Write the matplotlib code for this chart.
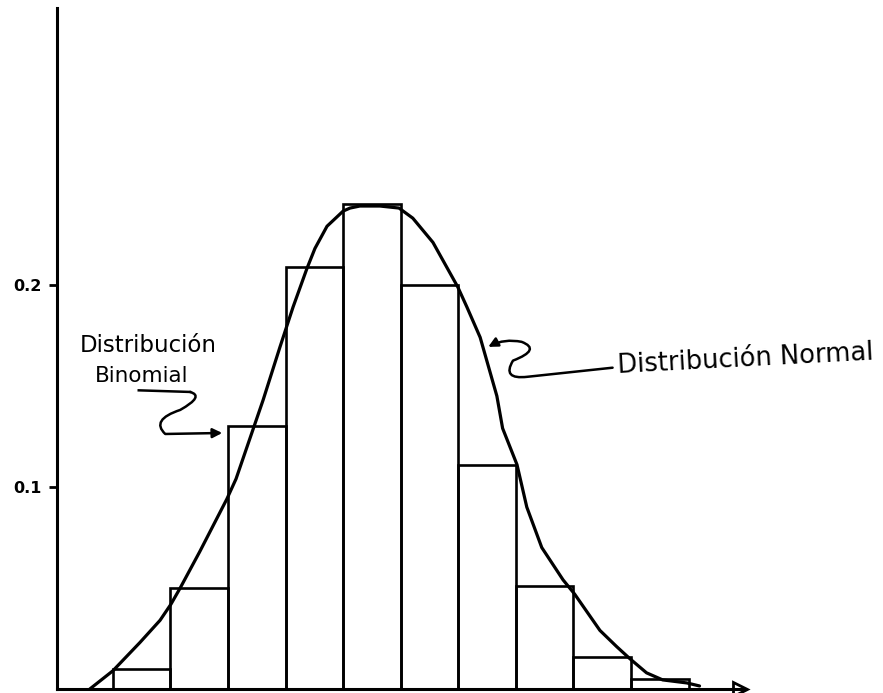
#!/usr/bin/env python3
"""
Binomial histogram with the normal curve drawn over it (hand-drawn sketch).
"""

import matplotlib.pyplot as plt
from matplotlib.patches import FancyArrowPatch
from matplotlib.path import Path

# Binomial bars (k, probability)
bar_k = [1, 2, 3, 4, 5, 6, 7, 8, 9, 10]
bar_prob = [0.010, 0.050, 0.130, 0.209, 0.240, 0.200, 0.111, 0.051, 0.016, 0.005]

# Normal curve as drawn by hand
curve_x = [0.10, 0.50, 0.97, 1.32, 1.51, 1.67, 2.01, 2.48, 2.64, 3.11,
           3.40, 3.63, 3.87, 4.01, 4.22, 4.50, 4.62, 4.79, 5.14, 5.47,
           5.71, 6.06, 6.49, 6.65, 6.88, 7.17, 7.27, 7.52, 7.69, 7.95,
           8.32, 8.52, 8.96, 9.25, 9.48, 9.77, 10.05, 10.47, 10.69]
curve_y = [0.000, 0.009, 0.023, 0.034, 0.042, 0.050, 0.068, 0.094, 0.104, 0.143,
           0.169, 0.189, 0.208, 0.218, 0.229, 0.2365, 0.238, 0.239, 0.239, 0.238,
           0.233, 0.221, 0.199, 0.189, 0.174, 0.145, 0.129, 0.111, 0.090, 0.070,
           0.054, 0.047, 0.029, 0.021, 0.015, 0.008, 0.0045, 0.003, 0.0015]

y_ticks = [0.1, 0.2]
y_tick_labels = ['0.1', '0.2']

fig = plt.figure(figsize=(8.83, 6.93), dpi=100)
fig.patch.set_facecolor('white')
ax = fig.add_axes([57 / 883, 4 / 693, 688 / 883, 681 / 693])

# ===== Bars and curve =====
ax.bar(bar_k, bar_prob, width=1.0, facecolor='none', edgecolor='black',
       linewidth=1.9, zorder=2)
ax.plot(curve_x, curve_y, color='black', linewidth=2.3,
        solid_joinstyle='round', solid_capstyle='round', zorder=3)

# ===== Axes =====
ax.set_xlim(-0.47, 11.48)
ax.set_ylim(0, 0.337)
ax.spines['top'].set_visible(False)
ax.spines['right'].set_visible(False)
ax.spines['left'].set_linewidth(2.2)
ax.spines['bottom'].set_linewidth(2.2)
ax.set_xticks([])
ax.set_yticks(y_ticks)
ax.set_yticklabels(y_tick_labels, fontsize=11.5, weight='bold')
ax.tick_params(axis='y', direction='out', length=6, width=2, pad=5)

# open arrow head at the end of the x axis
ax.plot([11.39], [0], marker='>', markersize=10, fillstyle='none',
        markeredgewidth=2, color='black', clip_on=False)

# ===== Labels =====
ax.text(-0.08, 0.170, 'Distribución', fontsize=16.5, ha='left', va='center')
ax.text(0.19, 0.1550, 'Binomial', fontsize=15.5, ha='left', va='center')
ax.plot([0.95, 1.84], [0.1478, 0.1470], color='black', linewidth=1.8)

ax.text(9.25, 0.1630, 'Distribución Normal', fontsize=18.5, ha='left',
        va='center', rotation=3)

# curly arrow pointing at the binomial bars
left_path = Path([(1.84, 0.1470), (2.10, 0.1450), (1.67, 0.1381),
                  (1.15, 0.1332), (1.41, 0.1262), (2.40, 0.1267)],
                 [Path.MOVETO, Path.CURVE3, Path.CURVE3,
                  Path.CURVE3, Path.CURVE3, Path.LINETO])
ax.add_patch(FancyArrowPatch(path=left_path, arrowstyle='-|>',
                             mutation_scale=14, color='black', linewidth=1.8))

# curly arrow pointing at the normal curve
right_path = Path([(9.18, 0.1590), (7.70, 0.1545), (7.25, 0.1530),
                   (7.45, 0.1625), (7.95, 0.1680), (7.60, 0.1718),
                   (7.30, 0.1735), (7.02, 0.1693)],
                  [Path.MOVETO, Path.LINETO, Path.CURVE3, Path.CURVE3,
                   Path.CURVE3, Path.CURVE3, Path.CURVE3, Path.CURVE3])
ax.add_patch(FancyArrowPatch(path=right_path, arrowstyle='-|>',
                             mutation_scale=14, color='black', linewidth=1.8))

fig.savefig('out.png', dpi=100, facecolor='white')
print("Saved: out.png")
